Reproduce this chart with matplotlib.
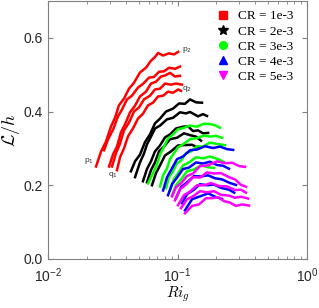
import matplotlib.pyplot as plt
from matplotlib.lines import Line2D

# five runs per CR value (Ri_g, L/h)
red_x = [
    [0.0235, 0.0257, 0.0280, 0.0307, 0.0329, 0.0353, 0.0386, 0.0422, 0.0461, 0.0513, 0.0571, 0.0624, 0.0670, 0.0708, 0.0774, 0.0859, 0.0940, 0.1012],
    [0.0271, 0.0291, 0.0318, 0.0347, 0.0372, 0.0407, 0.0445, 0.0495, 0.0541, 0.0602, 0.0658, 0.0720, 0.0786, 0.0859, 0.0957, 0.1045],
    [0.0296, 0.0318, 0.0341, 0.0366, 0.0393, 0.0430, 0.0470, 0.0513, 0.0571, 0.0624, 0.0682, 0.0746, 0.0801, 0.0875, 0.0957, 0.1045],
    [0.0312, 0.0335, 0.0360, 0.0386, 0.0422, 0.0461, 0.0504, 0.0551, 0.0613, 0.0670, 0.0733, 0.0801, 0.0891, 0.0974, 0.1083],
    [0.0341, 0.0360, 0.0386, 0.0415, 0.0453, 0.0495, 0.0541, 0.0592, 0.0646, 0.0708, 0.0774, 0.0845, 0.0923, 0.1012, 0.1064],
]
red_y = [
    [0.251, 0.292, 0.318, 0.360, 0.383, 0.417, 0.435, 0.462, 0.478, 0.506, 0.519, 0.538, 0.548, 0.559, 0.552, 0.558, 0.555, 0.562],
    [0.295, 0.325, 0.351, 0.387, 0.405, 0.433, 0.443, 0.465, 0.475, 0.492, 0.494, 0.508, 0.509, 0.519, 0.516, 0.522],
    [0.251, 0.284, 0.305, 0.344, 0.365, 0.398, 0.416, 0.441, 0.454, 0.476, 0.481, 0.495, 0.498, 0.505, 0.495, 0.497],
    [0.251, 0.287, 0.313, 0.349, 0.370, 0.400, 0.411, 0.433, 0.443, 0.460, 0.462, 0.476, 0.473, 0.476, 0.473],
    [0.241, 0.276, 0.300, 0.333, 0.354, 0.381, 0.394, 0.417, 0.424, 0.441, 0.443, 0.454, 0.451, 0.460, 0.456],
]

black_x = [
    [0.0437, 0.0470, 0.0513, 0.0561, 0.0613, 0.0670, 0.0733, 0.0815, 0.0923, 0.1027, 0.1142, 0.1249, 0.1390, 0.1546],
    [0.0470, 0.0513, 0.0551, 0.0581, 0.0624, 0.0670, 0.0733, 0.0830, 0.0923, 0.1045, 0.1163, 0.1249, 0.1440, 0.1574, 0.1690],
    [0.0541, 0.0581, 0.0624, 0.0670, 0.0733, 0.0801, 0.0875, 0.0974, 0.1103, 0.1205, 0.1318, 0.1440, 0.1574, 0.1722],
    [0.0581, 0.0624, 0.0670, 0.0720, 0.0786, 0.0875, 0.0991, 0.1122, 0.1249, 0.1390, 0.1519],
    [0.0635, 0.0682, 0.0733, 0.0801, 0.0891, 0.1008, 0.1142, 0.1294, 0.1440],
]
black_y = [
    [0.238, 0.265, 0.283, 0.317, 0.338, 0.368, 0.381, 0.400, 0.408, 0.422, 0.421, 0.433, 0.425, 0.424],
    [0.222, 0.262, 0.286, 0.311, 0.332, 0.354, 0.362, 0.379, 0.383, 0.398, 0.395, 0.399, 0.387, 0.393, 0.388],
    [0.211, 0.244, 0.265, 0.292, 0.308, 0.330, 0.338, 0.354, 0.359, 0.360, 0.347, 0.349, 0.341, 0.342],
    [0.208, 0.241, 0.262, 0.292, 0.305, 0.325, 0.329, 0.341, 0.336, 0.332, 0.321],
    [0.200, 0.233, 0.254, 0.281, 0.292, 0.308, 0.309, 0.310, 0.302],
]

green_x = [
    [0.0592, 0.0646, 0.0695, 0.0733, 0.0774, 0.0845, 0.0923, 0.1008, 0.1103, 0.1249, 0.1415, 0.1602, 0.1782, 0.1948, 0.2129],
    [0.0733, 0.0774, 0.0830, 0.0875, 0.0923, 0.1008, 0.1103, 0.1249, 0.1415, 0.1602, 0.1782, 0.1983, 0.2206],
    [0.0815, 0.0859, 0.0923, 0.0991, 0.1064, 0.1163, 0.1272, 0.1415, 0.1574, 0.1782, 0.2018, 0.2327],
    [0.0875, 0.0940, 0.1008, 0.1103, 0.1227, 0.1390, 0.1574, 0.1782, 0.2055, 0.2286],
    [0.0907, 0.0974, 0.1064, 0.1184, 0.1341, 0.1519, 0.1722, 0.1913],
]
green_y = [
    [0.205, 0.233, 0.256, 0.284, 0.300, 0.327, 0.338, 0.352, 0.355, 0.362, 0.359, 0.367, 0.366, 0.363, 0.356],
    [0.197, 0.227, 0.246, 0.271, 0.283, 0.303, 0.311, 0.325, 0.328, 0.335, 0.332, 0.334, 0.329],
    [0.192, 0.222, 0.238, 0.260, 0.267, 0.287, 0.292, 0.306, 0.305, 0.316, 0.312, 0.309],
    [0.186, 0.217, 0.232, 0.254, 0.262, 0.276, 0.273, 0.278, 0.271, 0.263],
    [0.173, 0.200, 0.216, 0.238, 0.243, 0.254, 0.249, 0.247],
]

blue_x = [
    [0.0774, 0.0830, 0.0907, 0.0991, 0.1103, 0.1249, 0.1415, 0.1631, 0.1880, 0.2129, 0.2411, 0.2690],
    [0.0845, 0.0907, 0.0991, 0.1103, 0.1227, 0.1390, 0.1574, 0.1782, 0.2018, 0.2246, 0.2498],
    [0.0974, 0.1064, 0.1184, 0.1341, 0.1519, 0.1722, 0.1948, 0.2206, 0.2544, 0.2830],
    [0.1083, 0.1184, 0.1318, 0.1492, 0.1690, 0.1913, 0.2167, 0.2498, 0.2740],
    [0.1142, 0.1294, 0.1492, 0.1722, 0.1983, 0.2206],
]
blue_y = [
    [0.186, 0.222, 0.246, 0.271, 0.278, 0.295, 0.297, 0.306, 0.301, 0.305, 0.298, 0.296],
    [0.173, 0.203, 0.221, 0.244, 0.248, 0.262, 0.259, 0.264, 0.255, 0.253, 0.245],
    [0.165, 0.195, 0.208, 0.225, 0.224, 0.227, 0.219, 0.216, 0.206, 0.201],
    [0.151, 0.176, 0.186, 0.203, 0.200, 0.202, 0.193, 0.188, 0.180],
    [0.132, 0.162, 0.170, 0.178, 0.168, 0.163],
]

magenta_x = [
    [0.0907, 0.0974, 0.1064, 0.1184, 0.1318, 0.1492, 0.1722, 0.2018, 0.2327, 0.2643, 0.2996, 0.3321],
    [0.0957, 0.1045, 0.1163, 0.1318, 0.1492, 0.1690, 0.1913, 0.2167, 0.2498, 0.2780, 0.3093, 0.3381],
    [0.1008, 0.1122, 0.1249, 0.1415, 0.1602, 0.1814, 0.2091, 0.2411, 0.2780, 0.3093, 0.3381],
    [0.1064, 0.1184, 0.1318, 0.1492, 0.1690, 0.1913, 0.2167, 0.2498, 0.2780, 0.3093, 0.3506],
    [0.1142, 0.1294, 0.1465, 0.1660, 0.1848, 0.2055, 0.2286, 0.2544, 0.2830, 0.3149, 0.3570],
]
magenta_y = [
    [0.170, 0.195, 0.205, 0.225, 0.232, 0.252, 0.254, 0.265, 0.260, 0.261, 0.252, 0.250],
    [0.159, 0.189, 0.202, 0.222, 0.221, 0.235, 0.232, 0.233, 0.222, 0.216, 0.201, 0.196],
    [0.146, 0.173, 0.183, 0.200, 0.200, 0.206, 0.198, 0.197, 0.187, 0.188, 0.180],
    [0.138, 0.162, 0.170, 0.184, 0.181, 0.184, 0.174, 0.172, 0.166, 0.169, 0.164],
    [0.124, 0.144, 0.148, 0.165, 0.165, 0.168, 0.157, 0.153, 0.144, 0.148, 0.145],
]

groups = [
    (red_x, red_y, "#ff0000", "s", "CR = 1e-3"),
    (black_x, black_y, "#000000", "*", "CR = 2e-3"),
    (green_x, green_y, "#00ff00", "o", "CR = 3e-3"),
    (blue_x, blue_y, "#0000ff", "^", "CR = 4e-3"),
    (magenta_x, magenta_y, "#ff00ff", "v", "CR = 5e-3"),
]

# start / end labels of the first and last red run
end_labels = ["p$_1$", "p$_2$", "q$_1$", "q$_2$"]
end_x = [0.0207, 0.1185, 0.0316, 0.1185]
end_y = [0.265, 0.568, 0.228, 0.462]

plt.rcParams["font.family"] = ["Liberation Sans", "DejaVu Sans"]

fig = plt.figure(figsize=(3.19, 3.08), dpi=100)
ax = fig.add_axes([0.1505, 0.1591, 0.8119, 0.8377])

handles = []
for xs, ys, color, marker, label in groups:
    for x, y in zip(xs, ys):
        ax.plot(x, y, color=color, lw=1.8, solid_joinstyle="round")
    handles.append(Line2D([], [], ls="none", marker=marker, color=color,
                          markersize=7 if marker == "*" else 5.5, label=label))

for t, x, y in zip(end_labels, end_x, end_y):
    ax.text(x, y, t, fontsize=6, color="#333333", ha="center", va="center")

ax.set_xscale("log")
ax.set_xlim(1e-2, 1e0)
ax.set_ylim(0, 0.7)
ax.set_yticks([0, 0.2, 0.4, 0.6])
ax.set_yticklabels(["0.0", "0.2", "0.4", "0.6"])

for s in ax.spines.values():
    s.set_color("#808080")
    s.set_linewidth(0.8)
ax.tick_params(which="both", direction="in", top=True, right=True,
               color="#808080", labelcolor="#262626", labelsize=10)
ax.tick_params(which="major", length=3.5)
ax.tick_params(which="minor", length=2)
ax.tick_params(axis="x", pad=5)
ax.tick_params(axis="y", pad=4)

ax.set_xlabel(r"$Ri_g$", math_fontfamily="cm", fontsize=11, labelpad=0)
ax.set_ylabel(r"$\mathcal{L}/h$", math_fontfamily="cm", fontsize=13, labelpad=1)

ax.legend(handles=handles, loc="upper left", bbox_to_anchor=(0.61, 1.0),
          frameon=False, handlelength=1.2, handletextpad=0.5,
          labelspacing=0.22, borderaxespad=0.3,
          prop={"family": "Liberation Serif", "size": 9.5})

fig.savefig("out.png", dpi=100)
